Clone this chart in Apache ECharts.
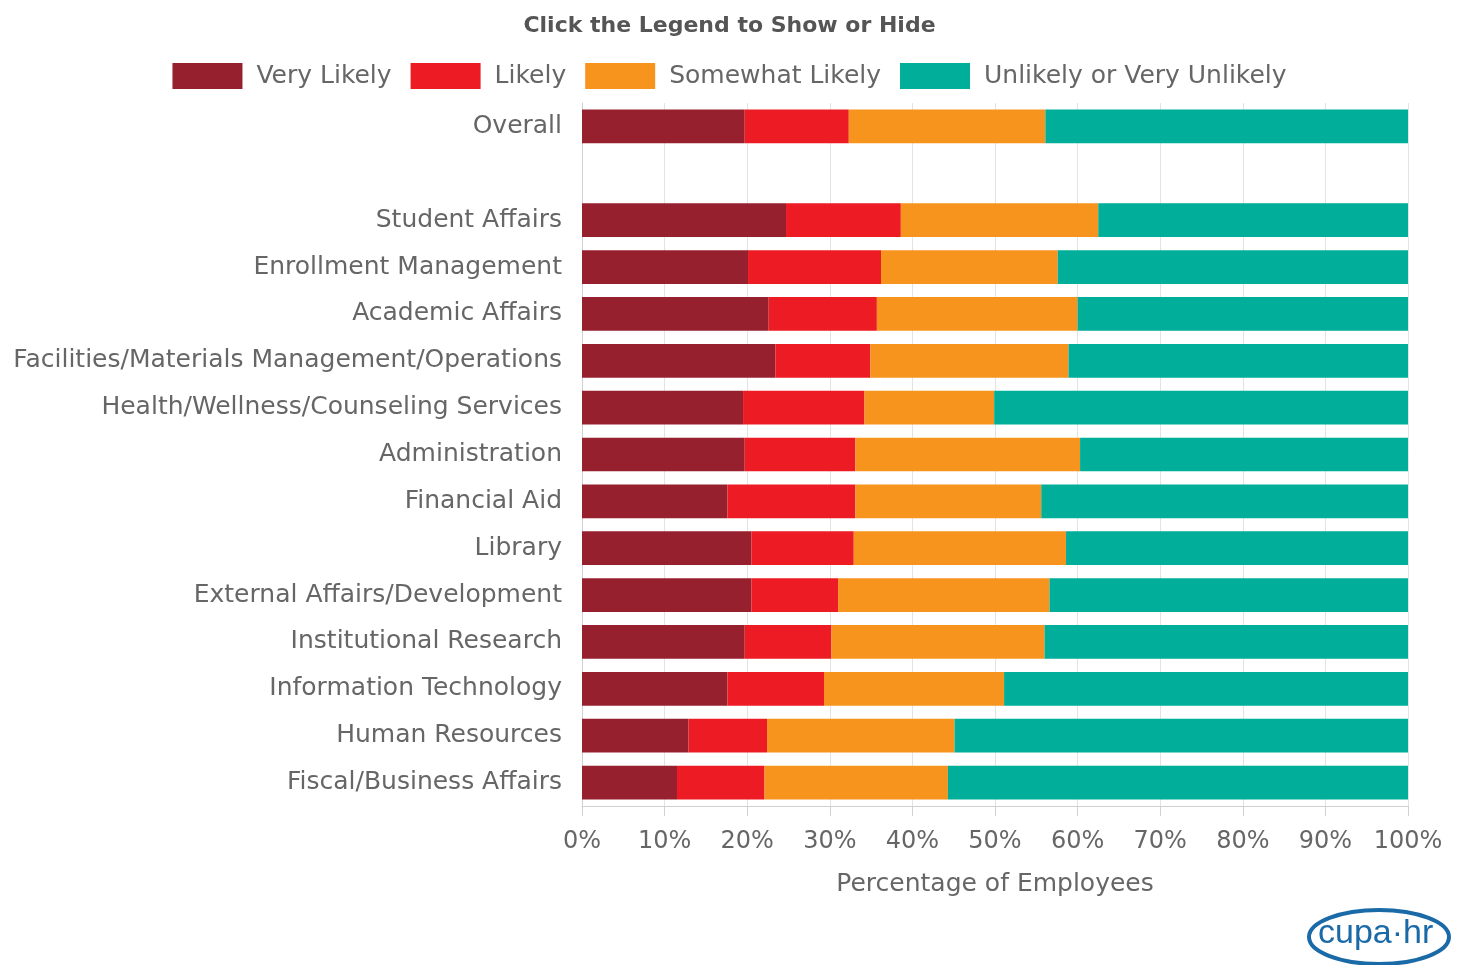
<!DOCTYPE html>
<html>
<head>
<meta charset="utf-8">
<script src="https://cdn.jsdelivr.net/npm/echarts@6/dist/echarts.min.js"></script>
<style>
html,body{margin:0;padding:0;background:#fff;}
#chart{width:1459px;height:965px;}
</style>
</head>
<body>
<div id="chart"></div>
<script>
const categories = [
  "Overall", "",
  "Student Affairs", "Enrollment Management", "Academic Affairs",
  "Facilities/Materials Management/Operations", "Health/Wellness/Counseling Services",
  "Administration", "Financial Aid", "Library", "External Affairs/Development",
  "Institutional Research", "Information Technology", "Human Resources",
  "Fiscal/Business Affairs"
];
const seriesNames = ["Very Likely", "Likely", "Somewhat Likely", "Unlikely or Very Unlikely"];
const veryLikely     = [19.7, null, 24.7, 20.1, 22.6, 23.4, 19.5, 19.7, 17.6, 20.5, 20.5, 19.7, 17.6, 12.9, 11.5];
const likely         = [12.6, null, 13.9, 16.1, 13.1, 11.5, 14.7, 13.4, 15.5, 12.4, 10.5, 10.5, 11.7,  9.5, 10.6];
const somewhatLikely = [23.8, null, 23.9, 21.4, 24.3, 24.0, 15.7, 27.2, 22.5, 25.7, 25.6, 25.8, 21.8, 22.7, 22.2];
const unlikely       = [43.9, null, 37.5, 42.4, 40.0, 41.1, 50.1, 39.7, 44.4, 41.4, 43.4, 44.0, 48.9, 54.9, 55.7];
const xTicks = { min: 0, max: 100, interval: 10 };
const colors = ["#97202f", "#ed1c24", "#f7941e", "#00ae99"];

const font = "'DejaVu Sans', sans-serif";
const textColor = '#666666';
const chart = echarts.init(document.getElementById('chart'), null, { renderer: 'canvas' });
const dataSets = [veryLikely, likely, somewhatLikely, unlikely];

chart.setOption({
  animation: false,
  color: colors,
  title: {
    text: "Click the Legend to Show or Hide",
    left: 'center',
    top: 10,
    textStyle: { fontFamily: font, fontSize: 22, fontWeight: 'bold', color: '#555555' }
  },
  legend: {
    data: seriesNames,
    top: 58,
    left: 'center',
    itemWidth: 70,
    itemHeight: 26,
    itemGap: 19,
    icon: 'rect',
    textStyle: { fontFamily: font, fontSize: 25, color: textColor, padding: [0, 0, 0, 9] }
  },
  grid: { left: 582, right: 51, top: 103, bottom: 159, containLabel: false },
  xAxis: {
    type: 'value',
    min: xTicks.min, max: xTicks.max, interval: xTicks.interval,
    name: "Percentage of Employees",
    nameLocation: 'middle',
    nameGap: 66,
    nameTextStyle: { fontFamily: font, fontSize: 25, color: textColor },
    axisLine: { show: true, lineStyle: { color: '#d0d0d0', width: 1 } },
    axisTick: { show: true, length: 10, lineStyle: { color: '#d0d0d0' } },
    axisLabel: { formatter: '{value}%', fontFamily: font, fontSize: 24, color: textColor, margin: 24 },
    splitLine: { show: true, lineStyle: { color: '#e3e3e3', width: 1 } }
  },
  yAxis: {
    type: 'category',
    inverse: true,
    data: categories,
    axisLine: { show: true, lineStyle: { color: '#d0d0d0', width: 1 } },
    axisTick: { show: false },
    axisLabel: { fontFamily: font, fontSize: 25, color: textColor, margin: 20 },
    splitLine: { show: false }
  },
  series: seriesNames.map((name, i) => ({
    name: name,
    type: 'bar',
    stack: 'total',
    barWidth: '72%',
    data: dataSets[i],
    itemStyle: { color: colors[i] }
  })),
  graphic: [
    {
      type: 'ellipse',
      shape: { cx: 1379, cy: 937, rx: 70, ry: 27 },
      style: { fill: 'none', stroke: '#1b6aa8', lineWidth: 4 }
    },
    {
      type: 'text',
      left: 1318,
      top: 917,
      style: { text: 'cupa·hr', fill: '#1b6aa8', font: "34px 'Liberation Sans', Arial, sans-serif" }
    }
  ]
});
</script>
</body>
</html>
